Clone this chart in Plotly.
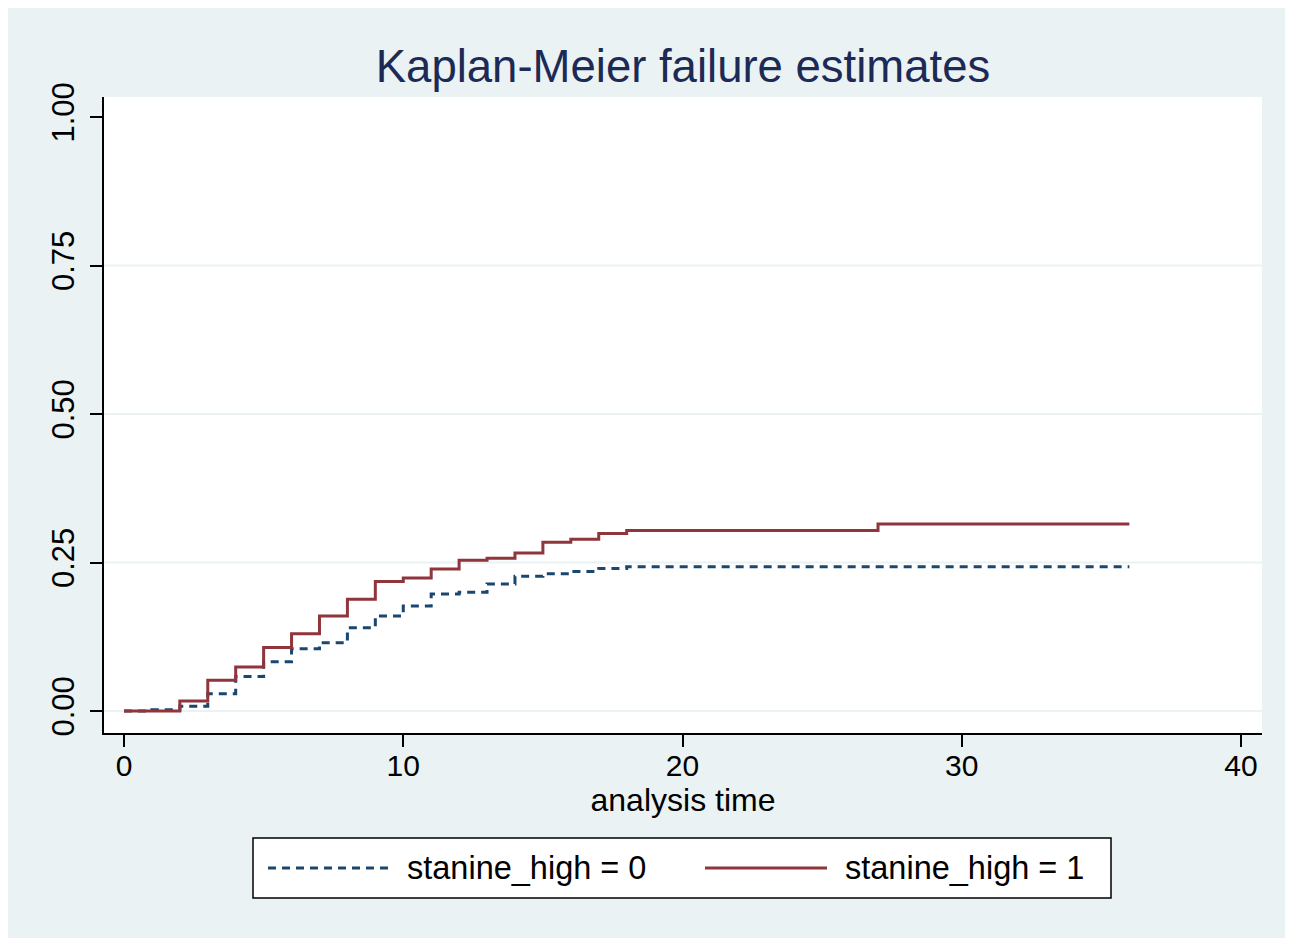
import plotly.graph_objects as go

# ---- data ----
time_g0 = [0, 1, 2, 3, 4, 5, 6, 7, 8, 9, 10, 11, 12, 13, 14, 15, 16, 17, 18, 36]
fail_g0 = [0.000, 0.002, 0.008, 0.029, 0.058, 0.083, 0.105, 0.115, 0.140, 0.160,
           0.177, 0.197, 0.200, 0.214, 0.227, 0.231, 0.235, 0.240, 0.243, 0.243]

time_g1 = [0, 2, 3, 4, 5, 6, 7, 8, 9, 10, 11, 12, 13, 14, 15, 16, 17, 18, 27, 36]
fail_g1 = [0.000, 0.017, 0.052, 0.074, 0.107, 0.130, 0.160, 0.188, 0.218, 0.224,
           0.239, 0.254, 0.257, 0.266, 0.284, 0.289, 0.299, 0.304, 0.315, 0.315]

series_names = ["stanine_high = 0", "stanine_high = 1"]
x_ticks = [0, 10, 20, 30, 40]
y_ticks = [0, 0.25, 0.5, 0.75, 1.0]
y_tick_labels = ["0.00", "0.25", "0.50", "0.75", "1.00"]
grid_levels = [0, 0.25, 0.5, 0.75]

title_text = "Kaplan-Meier failure estimates"
x_title = "analysis time"

BLUE = "#1A476F"
RED = "#90353B"
BG = "#EAF2F3"
FONT = "Liberation Sans, Arial, Helvetica, sans-serif"

fig = go.Figure()
fig.add_trace(go.Scatter(x=time_g0, y=fail_g0, mode="lines", line_shape="hv",
                         name=series_names[0],
                         line=dict(color=BLUE, width=3, dash="8px,6px")))
fig.add_trace(go.Scatter(x=time_g1, y=fail_g1, mode="lines", line_shape="hv",
                         name=series_names[1],
                         line=dict(color=RED, width=3)))

# horizontal grid lines (no grid at the top tick, as in the reference)
for g in grid_levels:
    fig.add_hline(y=g, line=dict(color=BG, width=2), layer="below")

OFF = 8  # page body margin
W, H = 1293, 938
L, R, T, B = 104 - OFF, 1262 - OFF, 97 - OFF, 733 - OFF
pw, ph = R - L, B - T

def px(xp):
    return (xp - OFF - L) / pw

def py(yp):
    return (B - (yp - OFF)) / ph

shapes = []
# legend box
shapes.append(dict(type="rect", xref="paper", yref="paper",
                   x0=px(253), x1=px(1111), y0=py(898), y1=py(838),
                   fillcolor="white", line=dict(color="black", width=1.5)))
ly = py(868)
shapes.append(dict(type="line", xref="paper", yref="paper",
                   x0=px(268), x1=px(388), y0=ly, y1=ly,
                   line=dict(color=BLUE, width=3, dash="8px,6px")))
shapes.append(dict(type="line", xref="paper", yref="paper",
                   x0=px(705), x1=px(827), y0=ly, y1=ly,
                   line=dict(color=RED, width=3)))
for s in shapes:
    fig.add_shape(**s)

fig.add_annotation(xref="paper", yref="paper", x=px(405), y=ly,
                   text=series_names[0], showarrow=False, xanchor="left",
                   yanchor="middle", font=dict(family=FONT, size=32.5, color="black"))
fig.add_annotation(xref="paper", yref="paper", x=px(843), y=ly,
                   text=series_names[1], showarrow=False, xanchor="left",
                   yanchor="middle", font=dict(family=FONT, size=32.5, color="black"))

fig.update_layout(
    width=W, height=H,
    margin=dict(l=L, r=W - R, t=T, b=H - B, pad=0),
    paper_bgcolor=BG,
    plot_bgcolor="white",
    showlegend=False,
    font=dict(family=FONT, color="black"),
    title=dict(text=title_text, x=px(683), xref="paper", xanchor="center",
               y=1 - (66 - OFF) / H, yref="container", yanchor="middle",
               font=dict(family=FONT, size=45.5, color="#1C2A55")),
)

fig.update_xaxes(
    range=[-0.716, 40.75], tickvals=x_ticks,
    showline=True, linecolor="black", linewidth=1.5,
    ticks="outside", ticklen=12, tickwidth=1.5, tickcolor="black",
    showgrid=False, zeroline=False, ticklabelstandoff=-7,
    tickfont=dict(family=FONT, size=30, color="black"),
    title=dict(text=x_title, font=dict(family=FONT, size=32, color="black"), standoff=4),
)
fig.update_yaxes(
    range=[-0.037, 1.0337], tickvals=y_ticks, ticktext=y_tick_labels,
    tickangle=-90,
    showline=True, linecolor="black", linewidth=1.5,
    ticks="outside", ticklen=12, tickwidth=1.5, tickcolor="black",
    showgrid=False, zeroline=False, ticklabelstandoff=4,
    tickfont=dict(family=FONT, size=31, color="black"),
)

fig.write_html("out.html")
